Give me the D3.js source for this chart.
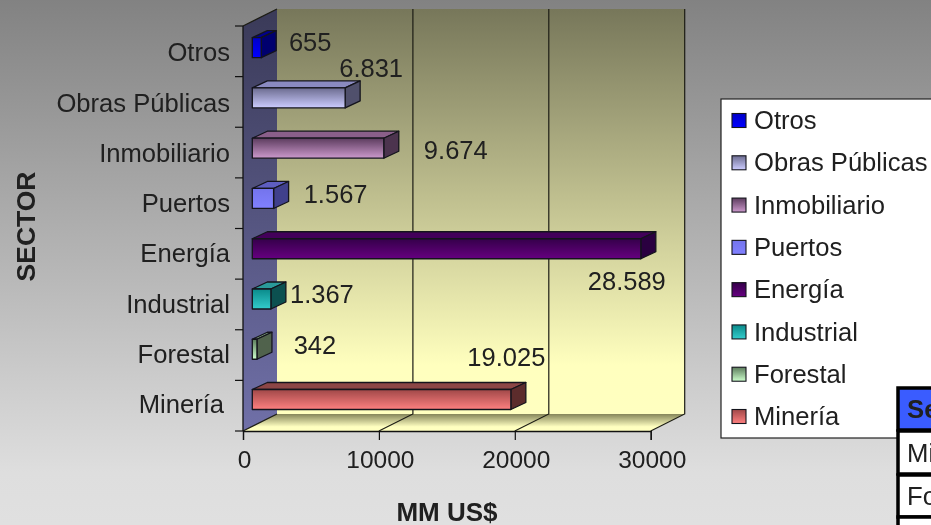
<!DOCTYPE html>
<html>
<head>
<meta charset="utf-8">
<script src="https://cdn.jsdelivr.net/npm/d3@7"></script>
<style>
  html, body { margin: 0; padding: 0; overflow: hidden; background: #bbb; }
  svg { display: block; font-family: "Liberation Sans", Arial, sans-serif; filter: blur(0.4px); }
</style>
</head>
<body>
<div id="chart"></div>
<script>
(function () {
  'use strict';

  // top to bottom, as on the axis
  var sectors = ['Otros', 'Obras Públicas', 'Inmobiliario', 'Puertos', 'Energía', 'Industrial', 'Forestal', 'Minería'];
  var values  = [655, 6831, 9674, 1567, 28589, 1367, 342, 19025];
  var valueLabels = ['655', '6.831', '9.674', '1.567', '28.589', '1.367', '342', '19.025'];
  var xTicks  = [0, 10000, 20000, 30000];
  var tableRows = ['Se', 'Mi', 'Fo'];

  // front-face gradient [top, bottom], top face, side face
  var barCol = [
    ['#0000c8', '#0000ff', '#00008c', '#00006e'],
    ['#6c6c90', '#ccccff', '#8a8ac0', '#50506c'],
    ['#5c3c5e', '#cc99cc', '#8a5f8a', '#4c344e'],
    ['#7474ec', '#8080ff', '#5e5ec0', '#40408c'],
    ['#35004a', '#660080', '#43005a', '#2a0040'],
    ['#0a8a8a', '#33cccc', '#2a9a9a', '#0c5050'],
    ['#5c7c5c', '#ccffcc', '#7ea07e', '#50624c'],
    ['#a04848', '#ff8080', '#8c4646', '#5c2c2c']
  ];

  var W = 931, H = 525;
  var axisLeft = 243, axisBottom = 431, axisTop = 26;
  var depthX = 34, depthY = -17;       // wall/floor depth
  var barIn = 9.3;                     // bars sit a little way into the box
  var barDX = 15, barDY = -7;          // bar's own depth
  var barH = 20;
  var inkCol = '#202020';

  var x = d3.scaleLinear().domain([0, 30000]).range([axisLeft, 650.7]);
  // ticks split the axis evenly, the bars run on a slightly tighter step
  var yTick = d3.scaleBand().domain(sectors).range([axisTop, axisBottom]);
  var yBar  = d3.scalePoint().domain(sectors).range([47.7, 399.5]);

  // the labels were dragged by hand in the original
  var labelNudge = [[49, -6], [26, -30], [72, 1.5], [62, -5], [-14, 32], [51, -5], [58, -4.5], [-4.5, -43]];

  var svg = d3.select('#chart').append('svg')
    .attr('width', W).attr('height', H)
    .attr('viewBox', '0 0 ' + W + ' ' + H);

  var defs = svg.append('defs');

  function vGrad(id, c0, c1, extra) {
    var g = defs.append('linearGradient').attr('id', id)
      .attr('x1', 0).attr('y1', 0).attr('x2', 0).attr('y2', 1);
    g.append('stop').attr('offset', 0).attr('stop-color', c0);
    if (extra) g.append('stop').attr('offset', extra[0]).attr('stop-color', extra[1]);
    g.append('stop').attr('offset', 1).attr('stop-color', c1);
  }

  vGrad('bg', '#828282', '#e0e0e0', [0.9, '#dedede']);
  vGrad('wallBack', '#77775a', '#ffffc0', [0.88, '#ffffbe']);
  vGrad('wallLeft', '#3a3a58', '#7070a8');
  vGrad('floor', '#85855a', '#ffffc0', [0.75, '#ffffc0']);
  barCol.forEach(function (c, i) {
    vGrad('bar' + i, c[0], c[1], null);
  });

  svg.append('rect').attr('width', W).attr('height', H).attr('fill', 'url(#bg)');

  function poly(pts) {
    return pts.map(function (p) { return p.join(','); }).join(' ');
  }

  var xEnd = x(30000);

  // Walls and floor
  svg.append('polygon')
    .attr('points', poly([[axisLeft + depthX, axisTop + depthY], [xEnd + depthX, axisTop + depthY],
                          [xEnd + depthX, axisBottom + depthY], [axisLeft + depthX, axisBottom + depthY]]))
    .attr('fill', 'url(#wallBack)');
  svg.append('polygon')
    .attr('points', poly([[axisLeft, axisTop], [axisLeft + depthX, axisTop + depthY],
                          [axisLeft + depthX, axisBottom + depthY], [axisLeft, axisBottom]]))
    .attr('fill', 'url(#wallLeft)');
  svg.append('polygon')
    .attr('points', poly([[axisLeft, axisBottom], [axisLeft + depthX, axisBottom + depthY],
                          [xEnd + depthX, axisBottom + depthY], [xEnd, axisBottom]]))
    .attr('fill', 'url(#floor)');

  // Gridlines, back wall and floor
  var grid = svg.append('g').attr('fill', 'none').attr('stroke', '#1c1c14').attr('stroke-width', 1.2);
  xTicks.slice(1).forEach(function (t) {
    grid.append('polyline')
      .attr('points', poly([[x(t), axisBottom], [x(t) + depthX, axisBottom + depthY],
                            [x(t) + depthX, axisTop + depthY]]));
  });
  grid.append('polyline')
    .attr('points', poly([[axisLeft, axisTop], [axisLeft + depthX, axisTop + depthY]]));
  grid.append('polyline')
    .attr('points', poly([[axisLeft, axisBottom], [axisLeft + depthX, axisBottom + depthY]]));

  // Bars
  sectors.forEach(function (s, i) {
    var x0 = x(0) + barIn;
    var x1 = x(values[i]) + barIn;
    var cy = yBar(s);
    var top = cy - barH / 2;
    var bot = cy + barH / 2;
    var g = svg.append('g').attr('stroke', '#14141c').attr('stroke-width', 1.3).attr('stroke-linejoin', 'round');

    g.append('polygon')
      .attr('points', poly([[x0, top], [x0 + barDX, top + barDY], [x1 + barDX, top + barDY], [x1, top]]))
      .attr('fill', barCol[i][2]);
    g.append('polygon')
      .attr('points', poly([[x1, top], [x1 + barDX, top + barDY], [x1 + barDX, bot + barDY], [x1, bot]]))
      .attr('fill', barCol[i][3]);
    g.append('rect')
      .attr('x', x0).attr('y', top)
      .attr('width', x1 - x0).attr('height', barH)
      .attr('fill', 'url(#bar' + i + ')');

    svg.append('text')
      .attr('x', x1 + labelNudge[i][0])
      .attr('y', cy + labelNudge[i][1])
      .attr('dy', '0.36em')
      .attr('text-anchor', 'middle')
      .attr('font-size', 25.5)
      .attr('fill', inkCol)
      .text(valueLabels[i]);
  });

  // X axis
  var xAxis = svg.append('g')
    .attr('transform', 'translate(0,' + axisBottom + ')')
    .call(d3.axisBottom(x).tickValues(xTicks).tickFormat(d3.format('d')).tickSize(9).tickPadding(11));
  xAxis.selectAll('path.domain').attr('stroke', '#111').attr('stroke-width', 1.3);
  xAxis.selectAll('.tick line').attr('stroke', '#111').attr('stroke-width', 1.2);
  xAxis.selectAll('text').attr('font-size', 24.5).attr('font-family', null).attr('fill', inkCol).attr('dx', 1);

  // Y axis
  var yAxis = svg.append('g')
    .attr('transform', 'translate(' + axisLeft + ',0)')
    .call(d3.axisLeft(yBar).tickSize(0).tickPadding(13));
  yAxis.select('path.domain').remove();
  yAxis.selectAll('text')
    .attr('font-size', 25.6).attr('font-family', null).attr('fill', inkCol)
    .attr('y', 5)
    .attr('dx', function (d) { return d === 'Minería' ? -6 : 0; });
  yAxis.append('line')
    .attr('x1', 0).attr('x2', 0)
    .attr('y1', axisTop).attr('y2', axisBottom)
    .attr('stroke', '#111').attr('stroke-width', 1.3);
  sectors.concat(['end']).forEach(function (s, i) {
    var ty = i < sectors.length ? yTick(s) : axisBottom;
    yAxis.append('line')
      .attr('x1', -8).attr('x2', 0)
      .attr('y1', ty).attr('y2', ty)
      .attr('stroke', '#111').attr('stroke-width', 1.2);
  });

  // Axis titles
  svg.append('text')
    .attr('transform', 'translate(35,226.5) rotate(-90)')
    .attr('text-anchor', 'middle')
    .attr('font-size', 26.5).attr('font-weight', 700).attr('fill', inkCol)
    .text('SECTOR');
  svg.append('text')
    .attr('x', 447).attr('y', 521)
    .attr('text-anchor', 'middle')
    .attr('font-size', 26).attr('font-weight', 700).attr('fill', inkCol)
    .text('MM US$');

  // Legend, runs off the page on the right as in the original
  var legendX = 721, legendY = 99, legendH = 339;
  svg.append('rect')
    .attr('x', legendX).attr('y', legendY)
    .attr('width', W - legendX + 20).attr('height', legendH)
    .attr('fill', '#fff').attr('stroke', '#222').attr('stroke-width', 1.2);

  var legendRow = d3.scalePoint().domain(sectors).range([120.5, 416.5]);
  sectors.forEach(function (s, i) {
    var cy = legendRow(s);
    svg.append('rect')
      .attr('x', 732).attr('y', cy - 7)
      .attr('width', 14).attr('height', 14)
      .attr('fill', 'url(#bar' + i + ')')
      .attr('stroke', '#14141c').attr('stroke-width', 1.1);
    svg.append('text')
      .attr('x', 754).attr('y', cy)
      .attr('dy', '0.34em')
      .attr('font-size', 25.6).attr('fill', inkCol)
      .text(s);
  });

  // Corner of the table that sits over the legend
  var tableX = 898, rowTop = [388, 431, 475], rowH = [42, 43, 42];
  tableRows.forEach(function (t, i) {
    svg.append('rect')
      .attr('x', tableX).attr('y', rowTop[i])
      .attr('width', W - tableX + 20).attr('height', rowH[i])
      .attr('fill', i === 0 ? '#3a5cff' : '#fff')
      .attr('stroke', '#000').attr('stroke-width', 3.5);
    svg.append('text')
      .attr('x', tableX + 9).attr('y', rowTop[i] + rowH[i] / 2)
      .attr('dy', '0.36em')
      .attr('font-size', 25.7).attr('font-weight', i === 0 ? 700 : 400)
      .attr('fill', inkCol)
      .text(t);
  });
  svg.append('rect')
    .attr('x', tableX).attr('y', 517)
    .attr('width', W - tableX + 20).attr('height', 20)
    .attr('fill', '#fff').attr('stroke', '#000').attr('stroke-width', 3.5);
}());
</script>
</body>
</html>
